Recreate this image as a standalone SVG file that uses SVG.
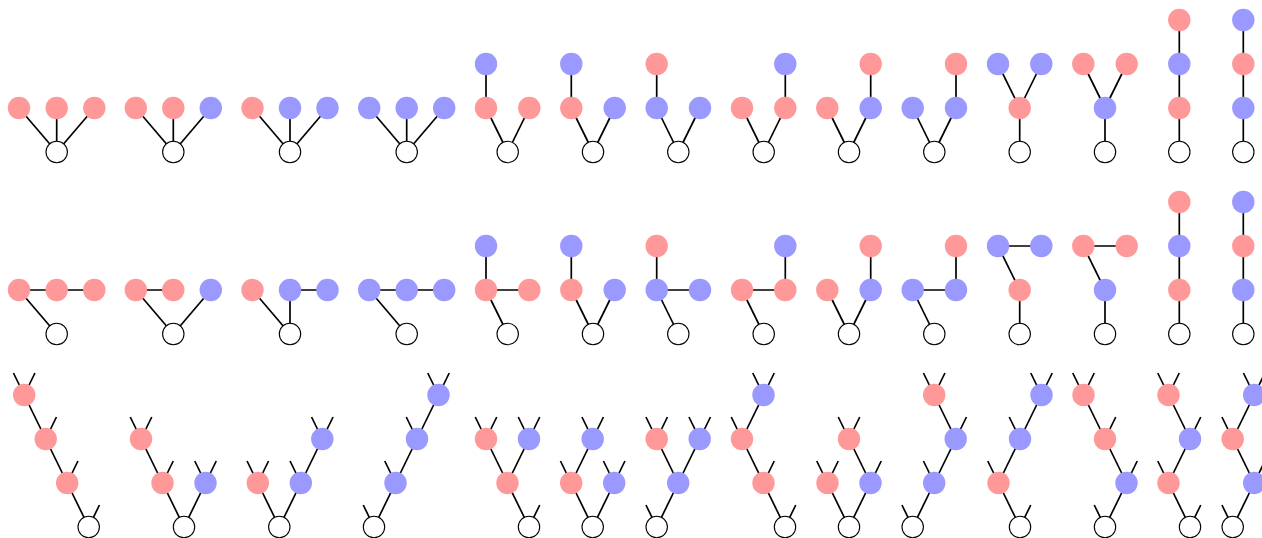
<svg xmlns="http://www.w3.org/2000/svg" width="1262" height="538" viewBox="0 0 1262 538">
<style>
.e line{stroke:#000;stroke-width:1.7;stroke-linecap:butt}
.r{fill:#ff9999}
.b{fill:#9999ff}
.w{fill:#fff;stroke:#000;stroke-width:1.1}
</style>
<rect width="1262" height="538" fill="#fff"/>
<g id="connectors" class="e">
 <g id="row1-edges">
  <line x1="56.7" y1="152" x2="19" y2="108"/><line x1="56.7" y1="152" x2="56.7" y2="108"/><line x1="56.7" y1="152" x2="94.3" y2="108"/>
  <line x1="173.3" y1="152" x2="135.8" y2="108"/><line x1="173.3" y1="152" x2="173.3" y2="108"/><line x1="173.3" y1="152" x2="210.8" y2="108"/>
  <line x1="290" y1="152" x2="252.5" y2="108"/><line x1="290" y1="152" x2="290" y2="108"/><line x1="290" y1="152" x2="327.5" y2="108"/>
  <line x1="406.7" y1="152" x2="369.2" y2="108"/><line x1="406.7" y1="152" x2="406.7" y2="108"/><line x1="406.7" y1="152" x2="444.2" y2="108"/>
  <line x1="486" y1="64" x2="486" y2="108"/><line x1="507.7" y1="152" x2="486" y2="108"/><line x1="507.7" y1="152" x2="529.3" y2="108"/>
  <line x1="571.3" y1="64" x2="571.3" y2="108"/><line x1="593" y1="152" x2="571.3" y2="108"/><line x1="593" y1="152" x2="614.7" y2="108"/>
  <line x1="656.7" y1="64" x2="656.7" y2="108"/><line x1="678.3" y1="152" x2="656.7" y2="108"/><line x1="678.3" y1="152" x2="700" y2="108"/>
  <line x1="785.3" y1="64" x2="785.3" y2="108"/><line x1="763.7" y1="152" x2="742" y2="108"/><line x1="763.7" y1="152" x2="785.3" y2="108"/>
  <line x1="870.7" y1="64" x2="870.7" y2="108"/><line x1="849" y1="152" x2="827.3" y2="108"/><line x1="849" y1="152" x2="870.7" y2="108"/>
  <line x1="956" y1="64" x2="956" y2="108"/><line x1="934.3" y1="152" x2="912.7" y2="108"/><line x1="934.3" y1="152" x2="956" y2="108"/>
  <line x1="998" y1="64" x2="1019.7" y2="108"/><line x1="1041.3" y1="64" x2="1019.7" y2="108"/><line x1="1019.7" y1="108" x2="1019.7" y2="152"/>
  <line x1="1083.3" y1="64" x2="1105" y2="108"/><line x1="1126.7" y1="64" x2="1105" y2="108"/><line x1="1105" y1="108" x2="1105" y2="152"/>
  <line x1="1179.3" y1="20" x2="1179.3" y2="152"/>
  <line x1="1243.3" y1="20" x2="1243.3" y2="152"/>
 </g>
 <g id="row2-edges" transform="translate(0,182)">
  <line x1="19" y1="108" x2="94.3" y2="108"/><line x1="19" y1="108" x2="56.7" y2="152"/>
  <line x1="135.8" y1="108" x2="173.3" y2="108"/><line x1="135.8" y1="108" x2="173.3" y2="152"/><line x1="210.8" y1="108" x2="173.3" y2="152"/>
  <line x1="252.5" y1="108" x2="290" y2="152"/><line x1="290" y1="108" x2="290" y2="152"/><line x1="290" y1="108" x2="327.5" y2="108"/>
  <line x1="369.2" y1="108" x2="444.2" y2="108"/><line x1="369.2" y1="108" x2="406.7" y2="152"/>
  <line x1="486" y1="64" x2="486" y2="108"/><line x1="486" y1="108" x2="529.3" y2="108"/><line x1="486" y1="108" x2="507.7" y2="152"/>
  <line x1="571.3" y1="64" x2="571.3" y2="108"/><line x1="571.3" y1="108" x2="593" y2="152"/><line x1="614.7" y1="108" x2="593" y2="152"/>
  <line x1="656.7" y1="64" x2="656.7" y2="108"/><line x1="656.7" y1="108" x2="700" y2="108"/><line x1="656.7" y1="108" x2="678.3" y2="152"/>
  <line x1="742" y1="108" x2="785.3" y2="108"/><line x1="785.3" y1="64" x2="785.3" y2="108"/><line x1="742" y1="108" x2="763.7" y2="152"/>
  <line x1="827.3" y1="108" x2="849" y2="152"/><line x1="870.7" y1="108" x2="849" y2="152"/><line x1="870.7" y1="64" x2="870.7" y2="108"/>
  <line x1="912.7" y1="108" x2="956" y2="108"/><line x1="956" y1="64" x2="956" y2="108"/><line x1="912.7" y1="108" x2="934.3" y2="152"/>
  <line x1="998" y1="64" x2="1041.3" y2="64"/><line x1="998" y1="64" x2="1019.7" y2="108"/><line x1="1019.7" y1="108" x2="1019.7" y2="152"/>
  <line x1="1083.3" y1="64" x2="1126.7" y2="64"/><line x1="1083.3" y1="64" x2="1105" y2="108"/><line x1="1105" y1="108" x2="1105" y2="152"/>
  <line x1="1179.3" y1="20" x2="1179.3" y2="152"/>
  <line x1="1243.3" y1="20" x2="1243.3" y2="152"/>
 </g>
 <g id="row3-edges">
  <line x1="88.7" y1="527" x2="67.2" y2="483"/><line x1="67.2" y1="483" x2="45.7" y2="439"/><line x1="45.7" y1="439" x2="24.2" y2="395"/>
  <line x1="88.7" y1="527" x2="99.45" y2="505"/><line x1="67.2" y1="483" x2="77.95" y2="461"/><line x1="45.7" y1="439" x2="56.45" y2="417"/><line x1="24.2" y1="395" x2="13.45" y2="373"/><line x1="24.2" y1="395" x2="34.95" y2="373"/>
  <line x1="184" y1="527" x2="162.5" y2="483"/><line x1="184" y1="527" x2="205.5" y2="483"/><line x1="162.5" y1="483" x2="141" y2="439"/>
  <line x1="162.5" y1="483" x2="173.25" y2="461"/><line x1="205.5" y1="483" x2="194.75" y2="461"/><line x1="205.5" y1="483" x2="216.25" y2="461"/><line x1="141" y1="439" x2="130.25" y2="417"/><line x1="141" y1="439" x2="151.75" y2="417"/>
  <line x1="279.3" y1="527" x2="257.8" y2="483"/><line x1="279.3" y1="527" x2="300.8" y2="483"/><line x1="300.8" y1="483" x2="322.3" y2="439"/>
  <line x1="257.8" y1="483" x2="247.05" y2="461"/><line x1="257.8" y1="483" x2="268.55" y2="461"/><line x1="300.8" y1="483" x2="290.05" y2="461"/><line x1="322.3" y1="439" x2="311.55" y2="417"/><line x1="322.3" y1="439" x2="333.05" y2="417"/>
  <line x1="374" y1="527" x2="395.5" y2="483"/><line x1="395.5" y1="483" x2="417" y2="439"/><line x1="417" y1="439" x2="438.5" y2="395"/>
  <line x1="374" y1="527" x2="363.25" y2="505"/><line x1="395.5" y1="483" x2="384.75" y2="461"/><line x1="417" y1="439" x2="406.25" y2="417"/><line x1="438.5" y1="395" x2="427.75" y2="373"/><line x1="438.5" y1="395" x2="449.25" y2="373"/>
  <line x1="529" y1="527" x2="507.5" y2="483"/><line x1="507.5" y1="483" x2="486" y2="439"/><line x1="507.5" y1="483" x2="529" y2="439"/>
  <line x1="529" y1="527" x2="539.75" y2="505"/><line x1="486" y1="439" x2="475.25" y2="417"/><line x1="486" y1="439" x2="496.75" y2="417"/><line x1="529" y1="439" x2="518.25" y2="417"/><line x1="529" y1="439" x2="539.75" y2="417"/>
  <line x1="592.7" y1="527" x2="571.2" y2="483"/><line x1="592.7" y1="527" x2="614.2" y2="483"/><line x1="571.2" y1="483" x2="592.7" y2="439"/>
  <line x1="571.2" y1="483" x2="560.45" y2="461"/><line x1="614.2" y1="483" x2="603.45" y2="461"/><line x1="614.2" y1="483" x2="624.95" y2="461"/><line x1="592.7" y1="439" x2="581.95" y2="417"/><line x1="592.7" y1="439" x2="603.45" y2="417"/>
  <line x1="656.7" y1="527" x2="678.2" y2="483"/><line x1="678.2" y1="483" x2="656.7" y2="439"/><line x1="678.2" y1="483" x2="699.7" y2="439"/>
  <line x1="656.7" y1="527" x2="645.95" y2="505"/><line x1="656.7" y1="439" x2="645.95" y2="417"/><line x1="656.7" y1="439" x2="667.45" y2="417"/><line x1="699.7" y1="439" x2="688.95" y2="417"/><line x1="699.7" y1="439" x2="710.45" y2="417"/>
  <line x1="785" y1="527" x2="763.5" y2="483"/><line x1="763.5" y1="483" x2="742" y2="439"/><line x1="742" y1="439" x2="763.5" y2="395"/>
  <line x1="785" y1="527" x2="795.75" y2="505"/><line x1="763.5" y1="483" x2="774.25" y2="461"/><line x1="742" y1="439" x2="731.25" y2="417"/><line x1="763.5" y1="395" x2="752.75" y2="373"/><line x1="763.5" y1="395" x2="774.25" y2="373"/>
  <line x1="849" y1="527" x2="827.5" y2="483"/><line x1="849" y1="527" x2="870.5" y2="483"/><line x1="870.5" y1="483" x2="849" y2="439"/>
  <line x1="827.5" y1="483" x2="816.75" y2="461"/><line x1="827.5" y1="483" x2="838.25" y2="461"/><line x1="870.5" y1="483" x2="881.25" y2="461"/><line x1="849" y1="439" x2="838.25" y2="417"/><line x1="849" y1="439" x2="859.75" y2="417"/>
  <line x1="912.7" y1="527" x2="934.2" y2="483"/><line x1="934.2" y1="483" x2="955.7" y2="439"/><line x1="955.7" y1="439" x2="934.2" y2="395"/>
  <line x1="912.7" y1="527" x2="901.95" y2="505"/><line x1="934.2" y1="483" x2="923.45" y2="461"/><line x1="955.7" y1="439" x2="966.45" y2="417"/><line x1="934.2" y1="395" x2="923.45" y2="373"/><line x1="934.2" y1="395" x2="944.95" y2="373"/>
  <line x1="1020" y1="527" x2="998.5" y2="483"/><line x1="998.5" y1="483" x2="1020" y2="439"/><line x1="1020" y1="439" x2="1041.5" y2="395"/>
  <line x1="1020" y1="527" x2="1030.75" y2="505"/><line x1="998.5" y1="483" x2="987.75" y2="461"/><line x1="1020" y1="439" x2="1009.25" y2="417"/><line x1="1041.5" y1="395" x2="1030.75" y2="373"/><line x1="1041.5" y1="395" x2="1052.25" y2="373"/>
  <line x1="1105" y1="527" x2="1126.5" y2="483"/><line x1="1126.5" y1="483" x2="1105" y2="439"/><line x1="1105" y1="439" x2="1083.5" y2="395"/>
  <line x1="1105" y1="527" x2="1094.25" y2="505"/><line x1="1126.5" y1="483" x2="1137.25" y2="461"/><line x1="1105" y1="439" x2="1115.75" y2="417"/><line x1="1083.5" y1="395" x2="1072.75" y2="373"/><line x1="1083.5" y1="395" x2="1094.25" y2="373"/>
  <line x1="1190" y1="527" x2="1168.5" y2="483"/><line x1="1168.5" y1="483" x2="1190" y2="439"/><line x1="1190" y1="439" x2="1168.5" y2="395"/>
  <line x1="1190" y1="527" x2="1200.75" y2="505"/><line x1="1168.5" y1="483" x2="1157.75" y2="461"/><line x1="1190" y1="439" x2="1200.75" y2="417"/><line x1="1168.5" y1="395" x2="1157.75" y2="373"/><line x1="1168.5" y1="395" x2="1179.25" y2="373"/>
  <line x1="1232.7" y1="527" x2="1254.2" y2="483"/><line x1="1254.2" y1="483" x2="1232.7" y2="439"/><line x1="1232.7" y1="439" x2="1254.2" y2="395"/>
  <line x1="1232.7" y1="527" x2="1221.95" y2="505"/><line x1="1254.2" y1="483" x2="1264.95" y2="461"/><line x1="1232.7" y1="439" x2="1221.95" y2="417"/><line x1="1254.2" y1="395" x2="1243.45" y2="373"/><line x1="1254.2" y1="395" x2="1264.95" y2="373"/>
 </g>
</g>
<g id="row1-nodes">
 <g id="r1g1"><circle id="r1g1a" class="r" cx="19" cy="108" r="11.2"/><circle id="r1g1b" class="r" cx="56.7" cy="108" r="11.2"/><circle id="r1g1c" class="r" cx="94.3" cy="108" r="11.2"/><circle id="r1g1w" class="w" cx="56.7" cy="152" r="10.7"/></g>
 <g id="r1g2"><circle id="r1g2a" class="r" cx="135.8" cy="108" r="11.2"/><circle id="r1g2b" class="r" cx="173.3" cy="108" r="11.2"/><circle id="r1g2c" class="b" cx="210.8" cy="108" r="11.2"/><circle id="r1g2w" class="w" cx="173.3" cy="152" r="10.7"/></g>
 <g id="r1g3"><circle id="r1g3a" class="r" cx="252.5" cy="108" r="11.2"/><circle id="r1g3b" class="b" cx="290" cy="108" r="11.2"/><circle id="r1g3c" class="b" cx="327.5" cy="108" r="11.2"/><circle id="r1g3w" class="w" cx="290" cy="152" r="10.7"/></g>
 <g id="r1g4"><circle id="r1g4a" class="b" cx="369.2" cy="108" r="11.2"/><circle id="r1g4b" class="b" cx="406.7" cy="108" r="11.2"/><circle id="r1g4c" class="b" cx="444.2" cy="108" r="11.2"/><circle id="r1g4w" class="w" cx="406.7" cy="152" r="10.7"/></g>
 <g id="r1g5"><circle id="r1g5t" class="b" cx="486" cy="64" r="11.2"/><circle id="r1g5l" class="r" cx="486" cy="108" r="11.2"/><circle id="r1g5r" class="r" cx="529.3" cy="108" r="11.2"/><circle id="r1g5w" class="w" cx="507.7" cy="152" r="10.7"/></g>
 <g id="r1g6"><circle id="r1g6t" class="b" cx="571.3" cy="64" r="11.2"/><circle id="r1g6l" class="r" cx="571.3" cy="108" r="11.2"/><circle id="r1g6r" class="b" cx="614.7" cy="108" r="11.2"/><circle id="r1g6w" class="w" cx="593" cy="152" r="10.7"/></g>
 <g id="r1g7"><circle id="r1g7t" class="r" cx="656.7" cy="64" r="11.2"/><circle id="r1g7l" class="b" cx="656.7" cy="108" r="11.2"/><circle id="r1g7r" class="b" cx="700" cy="108" r="11.2"/><circle id="r1g7w" class="w" cx="678.3" cy="152" r="10.7"/></g>
 <g id="r1g8"><circle id="r1g8l" class="r" cx="742" cy="108" r="11.2"/><circle id="r1g8t" class="b" cx="785.3" cy="64" r="11.2"/><circle id="r1g8r" class="r" cx="785.3" cy="108" r="11.2"/><circle id="r1g8w" class="w" cx="763.7" cy="152" r="10.7"/></g>
 <g id="r1g9"><circle id="r1g9l" class="r" cx="827.3" cy="108" r="11.2"/><circle id="r1g9t" class="r" cx="870.7" cy="64" r="11.2"/><circle id="r1g9r" class="b" cx="870.7" cy="108" r="11.2"/><circle id="r1g9w" class="w" cx="849" cy="152" r="10.7"/></g>
 <g id="r1g10"><circle id="r1g10l" class="b" cx="912.7" cy="108" r="11.2"/><circle id="r1g10t" class="r" cx="956" cy="64" r="11.2"/><circle id="r1g10r" class="b" cx="956" cy="108" r="11.2"/><circle id="r1g10w" class="w" cx="934.3" cy="152" r="10.7"/></g>
 <g id="r1g11"><circle id="r1g11a" class="b" cx="998" cy="64" r="11.2"/><circle id="r1g11b" class="b" cx="1041.3" cy="64" r="11.2"/><circle id="r1g11m" class="r" cx="1019.7" cy="108" r="11.2"/><circle id="r1g11w" class="w" cx="1019.7" cy="152" r="10.7"/></g>
 <g id="r1g12"><circle id="r1g12a" class="r" cx="1083.3" cy="64" r="11.2"/><circle id="r1g12b" class="r" cx="1126.7" cy="64" r="11.2"/><circle id="r1g12m" class="b" cx="1105" cy="108" r="11.2"/><circle id="r1g12w" class="w" cx="1105" cy="152" r="10.7"/></g>
 <g id="r1g13"><circle id="r1g13a" class="r" cx="1179.3" cy="20" r="11.2"/><circle id="r1g13b" class="b" cx="1179.3" cy="64" r="11.2"/><circle id="r1g13c" class="r" cx="1179.3" cy="108" r="11.2"/><circle id="r1g13w" class="w" cx="1179.3" cy="152" r="10.7"/></g>
 <g id="r1g14"><circle id="r1g14a" class="b" cx="1243.3" cy="20" r="11.2"/><circle id="r1g14b" class="r" cx="1243.3" cy="64" r="11.2"/><circle id="r1g14c" class="b" cx="1243.3" cy="108" r="11.2"/><circle id="r1g14w" class="w" cx="1243.3" cy="152" r="10.7"/></g>
</g>
<g id="row2-nodes" transform="translate(0,182)">
 <g id="r2g1"><circle id="r2g1a" class="r" cx="19" cy="108" r="11.2"/><circle id="r2g1b" class="r" cx="56.7" cy="108" r="11.2"/><circle id="r2g1c" class="r" cx="94.3" cy="108" r="11.2"/><circle id="r2g1w" class="w" cx="56.7" cy="152" r="10.7"/></g>
 <g id="r2g2"><circle id="r2g2a" class="r" cx="135.8" cy="108" r="11.2"/><circle id="r2g2b" class="r" cx="173.3" cy="108" r="11.2"/><circle id="r2g2c" class="b" cx="210.8" cy="108" r="11.2"/><circle id="r2g2w" class="w" cx="173.3" cy="152" r="10.7"/></g>
 <g id="r2g3"><circle id="r2g3a" class="r" cx="252.5" cy="108" r="11.2"/><circle id="r2g3b" class="b" cx="290" cy="108" r="11.2"/><circle id="r2g3c" class="b" cx="327.5" cy="108" r="11.2"/><circle id="r2g3w" class="w" cx="290" cy="152" r="10.7"/></g>
 <g id="r2g4"><circle id="r2g4a" class="b" cx="369.2" cy="108" r="11.2"/><circle id="r2g4b" class="b" cx="406.7" cy="108" r="11.2"/><circle id="r2g4c" class="b" cx="444.2" cy="108" r="11.2"/><circle id="r2g4w" class="w" cx="406.7" cy="152" r="10.7"/></g>
 <g id="r2g5"><circle id="r2g5t" class="b" cx="486" cy="64" r="11.2"/><circle id="r2g5l" class="r" cx="486" cy="108" r="11.2"/><circle id="r2g5r" class="r" cx="529.3" cy="108" r="11.2"/><circle id="r2g5w" class="w" cx="507.7" cy="152" r="10.7"/></g>
 <g id="r2g6"><circle id="r2g6t" class="b" cx="571.3" cy="64" r="11.2"/><circle id="r2g6l" class="r" cx="571.3" cy="108" r="11.2"/><circle id="r2g6r" class="b" cx="614.7" cy="108" r="11.2"/><circle id="r2g6w" class="w" cx="593" cy="152" r="10.7"/></g>
 <g id="r2g7"><circle id="r2g7t" class="r" cx="656.7" cy="64" r="11.2"/><circle id="r2g7l" class="b" cx="656.7" cy="108" r="11.2"/><circle id="r2g7r" class="b" cx="700" cy="108" r="11.2"/><circle id="r2g7w" class="w" cx="678.3" cy="152" r="10.7"/></g>
 <g id="r2g8"><circle id="r2g8l" class="r" cx="742" cy="108" r="11.2"/><circle id="r2g8t" class="b" cx="785.3" cy="64" r="11.2"/><circle id="r2g8r" class="r" cx="785.3" cy="108" r="11.2"/><circle id="r2g8w" class="w" cx="763.7" cy="152" r="10.7"/></g>
 <g id="r2g9"><circle id="r2g9l" class="r" cx="827.3" cy="108" r="11.2"/><circle id="r2g9t" class="r" cx="870.7" cy="64" r="11.2"/><circle id="r2g9r" class="b" cx="870.7" cy="108" r="11.2"/><circle id="r2g9w" class="w" cx="849" cy="152" r="10.7"/></g>
 <g id="r2g10"><circle id="r2g10l" class="b" cx="912.7" cy="108" r="11.2"/><circle id="r2g10t" class="r" cx="956" cy="64" r="11.2"/><circle id="r2g10r" class="b" cx="956" cy="108" r="11.2"/><circle id="r2g10w" class="w" cx="934.3" cy="152" r="10.7"/></g>
 <g id="r2g11"><circle id="r2g11a" class="b" cx="998" cy="64" r="11.2"/><circle id="r2g11b" class="b" cx="1041.3" cy="64" r="11.2"/><circle id="r2g11m" class="r" cx="1019.7" cy="108" r="11.2"/><circle id="r2g11w" class="w" cx="1019.7" cy="152" r="10.7"/></g>
 <g id="r2g12"><circle id="r2g12a" class="r" cx="1083.3" cy="64" r="11.2"/><circle id="r2g12b" class="r" cx="1126.7" cy="64" r="11.2"/><circle id="r2g12m" class="b" cx="1105" cy="108" r="11.2"/><circle id="r2g12w" class="w" cx="1105" cy="152" r="10.7"/></g>
 <g id="r2g13"><circle id="r2g13a" class="r" cx="1179.3" cy="20" r="11.2"/><circle id="r2g13b" class="b" cx="1179.3" cy="64" r="11.2"/><circle id="r2g13c" class="r" cx="1179.3" cy="108" r="11.2"/><circle id="r2g13w" class="w" cx="1179.3" cy="152" r="10.7"/></g>
 <g id="r2g14"><circle id="r2g14a" class="b" cx="1243.3" cy="20" r="11.2"/><circle id="r2g14b" class="r" cx="1243.3" cy="64" r="11.2"/><circle id="r2g14c" class="b" cx="1243.3" cy="108" r="11.2"/><circle id="r2g14w" class="w" cx="1243.3" cy="152" r="10.7"/></g>
</g>
<g id="row3-nodes">
 <g id="r3g1"><circle id="r3g1w" class="w" cx="88.7" cy="527" r="10.7"/><circle id="r3g1a" class="r" cx="67.2" cy="483" r="11.2"/><circle id="r3g1b" class="r" cx="45.7" cy="439" r="11.2"/><circle id="r3g1c" class="r" cx="24.2" cy="395" r="11.2"/></g>
 <g id="r3g2"><circle id="r3g2w" class="w" cx="184" cy="527" r="10.7"/><circle id="r3g2a" class="r" cx="162.5" cy="483" r="11.2"/><circle id="r3g2b" class="b" cx="205.5" cy="483" r="11.2"/><circle id="r3g2c" class="r" cx="141" cy="439" r="11.2"/></g>
 <g id="r3g3"><circle id="r3g3w" class="w" cx="279.3" cy="527" r="10.7"/><circle id="r3g3a" class="r" cx="257.8" cy="483" r="11.2"/><circle id="r3g3b" class="b" cx="300.8" cy="483" r="11.2"/><circle id="r3g3c" class="b" cx="322.3" cy="439" r="11.2"/></g>
 <g id="r3g4"><circle id="r3g4w" class="w" cx="374" cy="527" r="10.7"/><circle id="r3g4a" class="b" cx="395.5" cy="483" r="11.2"/><circle id="r3g4b" class="b" cx="417" cy="439" r="11.2"/><circle id="r3g4c" class="b" cx="438.5" cy="395" r="11.2"/></g>
 <g id="r3g5"><circle id="r3g5w" class="w" cx="529" cy="527" r="10.7"/><circle id="r3g5a" class="r" cx="507.5" cy="483" r="11.2"/><circle id="r3g5b" class="r" cx="486" cy="439" r="11.2"/><circle id="r3g5c" class="b" cx="529" cy="439" r="11.2"/></g>
 <g id="r3g6"><circle id="r3g6w" class="w" cx="592.7" cy="527" r="10.7"/><circle id="r3g6a" class="r" cx="571.2" cy="483" r="11.2"/><circle id="r3g6b" class="b" cx="614.2" cy="483" r="11.2"/><circle id="r3g6c" class="b" cx="592.7" cy="439" r="11.2"/></g>
 <g id="r3g7"><circle id="r3g7w" class="w" cx="656.7" cy="527" r="10.7"/><circle id="r3g7a" class="b" cx="678.2" cy="483" r="11.2"/><circle id="r3g7b" class="r" cx="656.7" cy="439" r="11.2"/><circle id="r3g7c" class="b" cx="699.7" cy="439" r="11.2"/></g>
 <g id="r3g8"><circle id="r3g8w" class="w" cx="785" cy="527" r="10.7"/><circle id="r3g8a" class="r" cx="763.5" cy="483" r="11.2"/><circle id="r3g8b" class="r" cx="742" cy="439" r="11.2"/><circle id="r3g8c" class="b" cx="763.5" cy="395" r="11.2"/></g>
 <g id="r3g9"><circle id="r3g9w" class="w" cx="849" cy="527" r="10.7"/><circle id="r3g9a" class="r" cx="827.5" cy="483" r="11.2"/><circle id="r3g9b" class="b" cx="870.5" cy="483" r="11.2"/><circle id="r3g9c" class="r" cx="849" cy="439" r="11.2"/></g>
 <g id="r3g10"><circle id="r3g10w" class="w" cx="912.7" cy="527" r="10.7"/><circle id="r3g10a" class="b" cx="934.2" cy="483" r="11.2"/><circle id="r3g10b" class="b" cx="955.7" cy="439" r="11.2"/><circle id="r3g10c" class="r" cx="934.2" cy="395" r="11.2"/></g>
 <g id="r3g11"><circle id="r3g11w" class="w" cx="1020" cy="527" r="10.7"/><circle id="r3g11a" class="r" cx="998.5" cy="483" r="11.2"/><circle id="r3g11b" class="b" cx="1020" cy="439" r="11.2"/><circle id="r3g11c" class="b" cx="1041.5" cy="395" r="11.2"/></g>
 <g id="r3g12"><circle id="r3g12w" class="w" cx="1105" cy="527" r="10.7"/><circle id="r3g12a" class="b" cx="1126.5" cy="483" r="11.2"/><circle id="r3g12b" class="r" cx="1105" cy="439" r="11.2"/><circle id="r3g12c" class="r" cx="1083.5" cy="395" r="11.2"/></g>
 <g id="r3g13"><circle id="r3g13w" class="w" cx="1190" cy="527" r="10.7"/><circle id="r3g13a" class="r" cx="1168.5" cy="483" r="11.2"/><circle id="r3g13b" class="b" cx="1190" cy="439" r="11.2"/><circle id="r3g13c" class="r" cx="1168.5" cy="395" r="11.2"/></g>
 <g id="r3g14"><circle id="r3g14w" class="w" cx="1232.7" cy="527" r="10.7"/><circle id="r3g14a" class="b" cx="1254.2" cy="483" r="11.2"/><circle id="r3g14b" class="r" cx="1232.7" cy="439" r="11.2"/><circle id="r3g14c" class="b" cx="1254.2" cy="395" r="11.2"/></g>
</g>
</svg>
